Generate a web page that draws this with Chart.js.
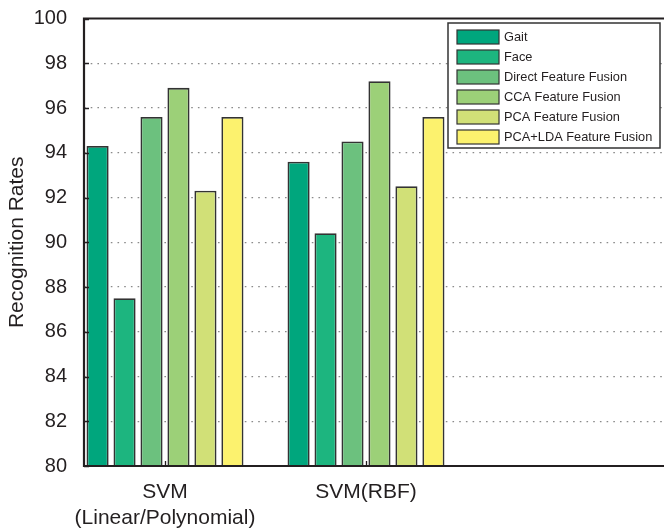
<!DOCTYPE html>
<html><head><meta charset="utf-8">
<script src="https://cdn.jsdelivr.net/npm/chart.js@4"></script>
<style>html,body{margin:0;padding:0;background:#fff;overflow:hidden}</style>
</head><body>
<canvas id="c" width="664" height="530"></canvas>
<script>
const groupLabels = [["SVM", "(Linear/Polynomial)"], "SVM(RBF)"];
const groupPositions = [1, 2];
const seriesNames = ["Gait", "Face", "Direct Feature Fusion", "CCA Feature Fusion", "PCA Feature Fusion", "PCA+LDA Feature Fusion"];
const gait = [94.3, 93.6];
const face = [87.5, 90.4];
const directFusion = [95.6, 94.5];
const ccaFusion = [96.9, 97.2];
const pcaFusion = [92.3, 92.5];
const pcaLdaFusion = [95.6, 95.6];
const yTickValues = [80, 82, 84, 86, 88, 90, 92, 94, 96, 98, 100];
const seriesColors = ["#00a67d", "#1db57f", "#6cc17e", "#9cd078", "#d1e077", "#fcf26e"];

const seriesValues = [gait, face, directFusion, ccaFusion, pcaFusion, pcaLdaFusion];
const TXT = "#231f20";
const FONT = "'Liberation Sans', Arial, sans-serif";

const datasets = seriesValues.map((vals, i) => ({
  label: seriesNames[i],
  data: vals.map((v, j) => ({ x: groupPositions[j], y: v })),
  backgroundColor: seriesColors[i],
  borderColor: "#333333",
  borderWidth: 1.8,
  borderSkipped: false,
  categoryPercentage: 0.805,
  barPercentage: 0.82
}));

const framePlugin = {
  id: "frame",
  afterDatasetsDraw(chart) {
    const { ctx, chartArea: a, scales } = chart;
    const y = scales.y, x = scales.x;
    ctx.save();
    ctx.strokeStyle = TXT;
    ctx.lineWidth = 1.3;
    ctx.beginPath();
    yTickValues.forEach(v => {
      const py = Math.round(y.getPixelForValue(v)) + 0.5;
      ctx.moveTo(a.left, py); ctx.lineTo(a.left + 5, py);
    });
    groupPositions.forEach(v => {
      const px = Math.round(x.getPixelForValue(v)) + 0.5;
      ctx.moveTo(px, a.bottom); ctx.lineTo(px, a.bottom - 5);
    });
    ctx.stroke();
    ctx.lineWidth = 2.2;
    ctx.beginPath();
    ctx.moveTo(a.right + 5, a.top); ctx.lineTo(a.left, a.top);
    ctx.lineTo(a.left, a.bottom); ctx.lineTo(a.right + 5, a.bottom);
    ctx.stroke();

    // legend
    const lx = 448, ly = 23, lw = 212, lh = 125;
    ctx.fillStyle = "#fff";
    ctx.fillRect(lx, ly, lw, lh);
    ctx.lineWidth = 1.5;
    ctx.strokeStyle = "#333";
    ctx.strokeRect(lx, ly, lw, lh);
    ctx.font = "12.8px " + FONT;
    ctx.textBaseline = "middle";
    ctx.textAlign = "left";
    chart.data.datasets.forEach((ds, i) => {
      const ry = 30 + i * 20;
      ctx.fillStyle = ds.backgroundColor;
      ctx.fillRect(457, ry, 42, 14);
      ctx.lineWidth = 1.2;
      ctx.strokeStyle = "#333";
      ctx.strokeRect(457, ry, 42, 14);
      ctx.fillStyle = TXT;
      ctx.fillText(ds.label, 504, ry + 7.5);
    });
    ctx.restore();
  }
};

new Chart(document.getElementById("c"), {
  type: "bar",
  data: { datasets },
  plugins: [framePlugin],
  options: {
    responsive: false,
    animation: false,
    layout: { padding: { top: 18.5, right: 0, left: 0, bottom: 0 } },
    plugins: { legend: { display: false }, tooltip: { enabled: false } },
    scales: {
      x: {
        type: "linear",
        offset: false,
        min: 1 - 81 / 201,
        max: 1 - 81 / 201 + 580 / 201,
        grid: { display: false, drawTicks: false, offset: false },
        border: { display: false },
        afterBuildTicks(s) { s.ticks = groupPositions.map(v => ({ value: v })); },
        afterFit(s) { s.height = 64; s.paddingLeft = 0; s.paddingRight = 0; },
        ticks: {
          padding: 14,
          color: TXT,
          font: { family: FONT, size: 21, lineHeight: 1.2 },
          maxRotation: 0,
          autoSkip: false,
          callback(v) { const i = groupPositions.indexOf(v); return i >= 0 ? groupLabels[i] : ""; }
        }
      },
      y: {
        min: 80, max: 100,
        afterBuildTicks(s) { s.ticks = yTickValues.map(v => ({ value: v })); },
        afterFit(s) { s.width = 84; s.paddingTop = 0; s.paddingBottom = 0; },
        grid: {
          drawTicks: false,
          lineWidth: 1.3,
          color: c => (c.tick && (c.tick.value === 80 || c.tick.value === 100)) ? "rgba(0,0,0,0)" : "#8a8a8a"
        },
        border: { display: false, dash: [1.6, 5.1] },
        ticks: { padding: 17, color: TXT, font: { family: FONT, size: 20 } },
        title: {
          display: true,
          text: "Recognition Rates",
          color: TXT,
          font: { family: FONT, size: 21 },
          padding: { top: 5, bottom: 0 }
        }
      }
    }
  }
});
</script>
</body></html>
